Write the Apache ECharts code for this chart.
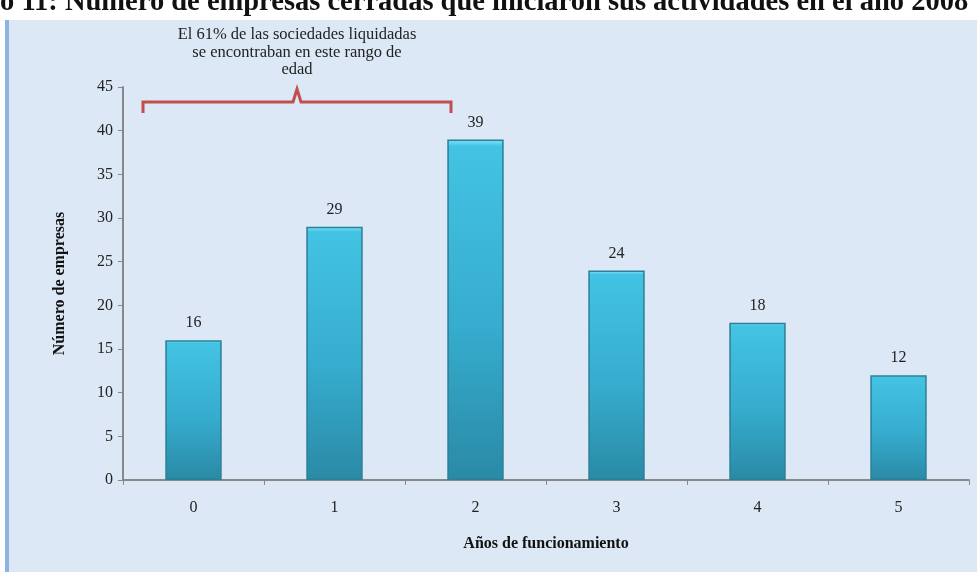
<!DOCTYPE html>
<html>
<head>
<meta charset="utf-8">
<script src="https://cdn.jsdelivr.net/npm/echarts@6/dist/echarts.min.js"></script>
<style>
  body{margin:0;background:#fff;width:977px;height:572px;overflow:hidden;position:relative;}
  .title{position:absolute;left:0;top:-15px;z-index:2;font:bold 28.5px "Liberation Serif",serif;color:#111;white-space:nowrap;line-height:32px;}
  .panel{position:absolute;left:5px;top:20px;right:0;bottom:0;background:#dce8f5;border-left:4px solid #8db3e2;}
  #chart{position:absolute;left:0;top:0;width:977px;height:572px;}
</style>
</head>
<body>
<div class="panel"></div>
<div id="chart"></div>
<div class="title">o 11: Número de empresas cerradas que iniciaron sus actividades en el año 2008</div>
<script>
// datos
var categorias = ['0', '1', '2', '3', '4', '5'];
var empresas = [16, 29, 39, 24, 18, 12];
var nota = 'El 61% de las sociedades liquidadas\nse encontraban en este rango de\nedad';

var fuente = '"Liberation Serif", serif';
var myChart = echarts.init(document.getElementById('chart'));
myChart.setOption({
  backgroundColor: 'transparent',
  grid: {left: 123, right: 8, top: 87, bottom: 92},
  xAxis: {
    type: 'category',
    data: categorias,
    name: 'Años de funcionamiento',
    nameLocation: 'middle',
    nameGap: 56,
    nameTextStyle: {fontFamily: fuente, fontWeight: 'bold', fontSize: 16, color: '#111'},
    axisLine: {lineStyle: {color: '#888', width: 2}},
    axisTick: {show: true, length: 5, lineStyle: {color: '#888'}},
    axisLabel: {fontFamily: fuente, fontSize: 16, color: '#222', margin: 20}
  },
  yAxis: {
    type: 'value',
    min: 0, max: 45, interval: 5,
    name: 'Número de empresas',
    nameLocation: 'middle',
    nameGap: 55,
    nameTextStyle: {fontFamily: fuente, fontWeight: 'bold', fontSize: 16, color: '#111'},
    axisLine: {show: true, lineStyle: {color: '#888', width: 2}},
    axisTick: {show: true, length: 5, lineStyle: {color: '#888'}},
    splitLine: {show: false},
    axisLabel: {fontFamily: fuente, fontSize: 16, color: '#222', margin: 10}
  },
  series: [{
    type: 'bar',
    data: empresas,
    barWidth: '40%',
    itemStyle: {
      color: new echarts.graphic.LinearGradient(0, 0, 0, 1, [
        {offset: 0, color: '#82e6f7'},
        {offset: 0.02, color: '#43c3e3'},
        {offset: 0.55, color: '#36acce'},
        {offset: 1, color: '#2a8aa5'}
      ]),
      borderColor: '#2b7f97',
      borderWidth: 1.5
    },
    label: {show: true, position: 'top', distance: 9, fontFamily: fuente, fontSize: 16, color: '#222'}
  }],
  graphic: [
    {
      type: 'text', x: 297, y: 26,
      style: {text: nota, fontFamily: fuente, fontSize: 16.5, lineHeight: 17.5, fill: '#222', align: 'center', verticalAlign: 'top'}
    },
    {
      type: 'polyline',
      shape: {points: [[143, 113], [143, 102], [293, 102], [297, 89], [301, 102], [451, 102], [451, 113]]},
      style: {stroke: '#c0504d', lineWidth: 3, fill: null}
    }
  ]
});
</script>
</body>
</html>
